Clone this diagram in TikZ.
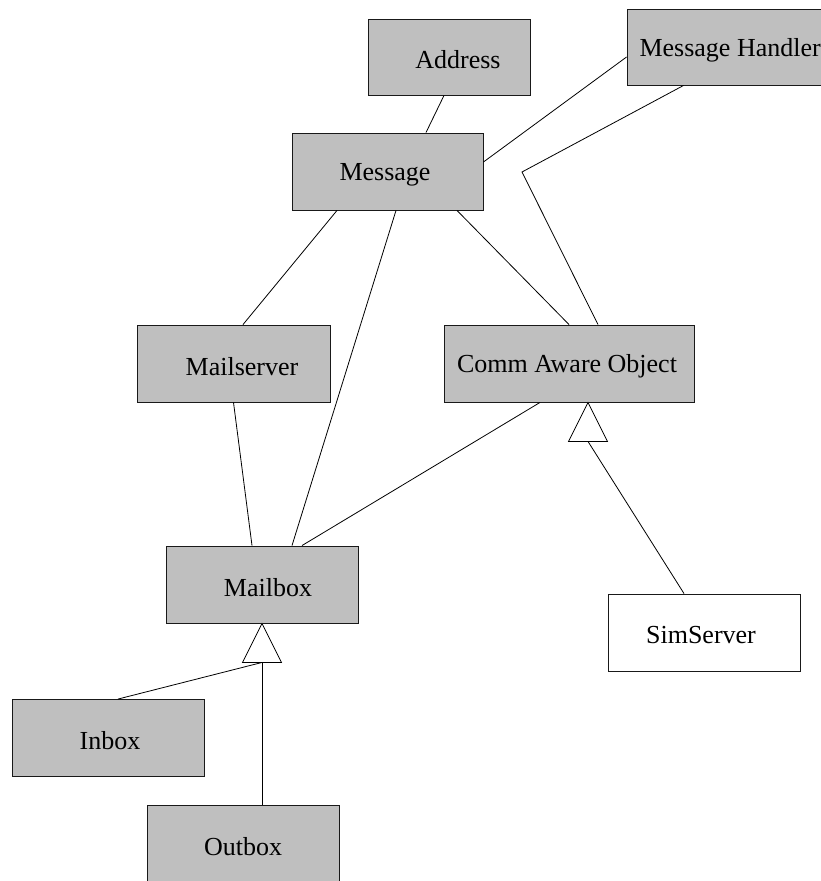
\documentclass[tikz,border=0pt]{standalone}
\usepackage{fontspec}
\setmainfont{Liberation Serif}
\begin{document}
\begin{tikzpicture}[x=1pt,y=-1pt,
  cls/.style={draw=black!90, line width=0.9pt, fill=black!25, rectangle,
    inner sep=0pt, minimum height=77pt},
  plain/.style={draw=black!90, line width=0.9pt, fill=white, rectangle,
    inner sep=0pt, minimum height=77pt},
  txt/.style={font=\fontsize{26}{30}\selectfont, yshift=-3pt},
  link/.style={line width=0.8pt},
  isa/.style={line width=0.8pt, fill=white}]
\useasboundingbox (0,0) rectangle (820,881);

% classes
\node[cls, minimum width=162pt, minimum height=76pt] (addr) at (449,57) {};
\node[txt] (addrT) at (458,57) {Address};
\node[cls, minimum width=203pt, minimum height=76pt] (mh) at (728.5,47) {};
\node[txt, anchor=west] (mhT) at (636,47) {Message Handler};
\node[cls, minimum width=191pt] (msg) at (387.5,171.5) {};
\node[txt] (msgT) at (385,171.5) {Message};
\node[cls, minimum width=193pt] (mserv) at (233.5,363.5) {};
\node[txt] (mservT) at (242,363.5) {Mailserver};
\node[cls, minimum width=250pt] (cao) at (569,363.5) {};
\node[txt] (caoT) at (567,363.5) {Comm Aware Object};
\node[cls, minimum width=192pt] (mbox) at (262,584.5) {};
\node[txt] (mboxT) at (268,584.5) {Mailbox};
\node[plain, minimum width=192pt] (sim) at (704,632.5) {};
\node[txt] (simT) at (701,632.5) {SimServer};
\node[cls, minimum width=192pt] (inbox) at (108,738) {};
\node[txt] (inboxT) at (110,738) {Inbox};
\node[cls, minimum width=192pt] (outbox) at (243,843.5) {};
\node[txt] (outboxT) at (243,843.5) {Outbox};

% associations
\draw[link] ([xshift=-5pt]addr.south) -- ([xshift=38.5pt]msg.north);
\draw[link] ([yshift=-10pt]mh.west) -- ([yshift=9.5pt]msg.east);
\coordinate (bend) at (522,172);
\draw[link] ([xshift=57pt]mh.south west) -- (bend) -- ([xshift=29pt]cao.north);
\draw[link] ([xshift=69.5pt]msg.south) -- (cao.north);
\draw[link] ([xshift=-50.5pt]msg.south) -- ([xshift=9.5pt]mserv.north);
\draw[link] ([xshift=8.5pt]msg.south) -- ([xshift=30pt]mbox.north);
\draw[link] (mserv.south) -- ([xshift=-10pt]mbox.north);
\draw[link] ([xshift=-29pt]cao.south) -- ([xshift=40pt]mbox.north);

% generalisation: SimServer -> Comm Aware Object
\coordinate (capex) at ([xshift=19pt]cao.south);
\coordinate (cbase) at ([yshift=-39pt]capex);
\draw[link] ([xshift=-20pt]sim.north) -- (cbase);
\draw[isa] (capex) -- ++(-19.5,39) -- ++(39,0) -- cycle;

% generalisation: Inbox, Outbox -> Mailbox
\coordinate (mbase) at ([yshift=-39pt]mbox.south);
\draw[link] ([xshift=10pt]inbox.north) -- (mbase);
\draw[link] (outbox.north -| mbase) -- (mbase);
\draw[isa] (mbox.south) -- ++(-19.5,39) -- ++(39,0) -- cycle;
\end{tikzpicture}
\end{document}
